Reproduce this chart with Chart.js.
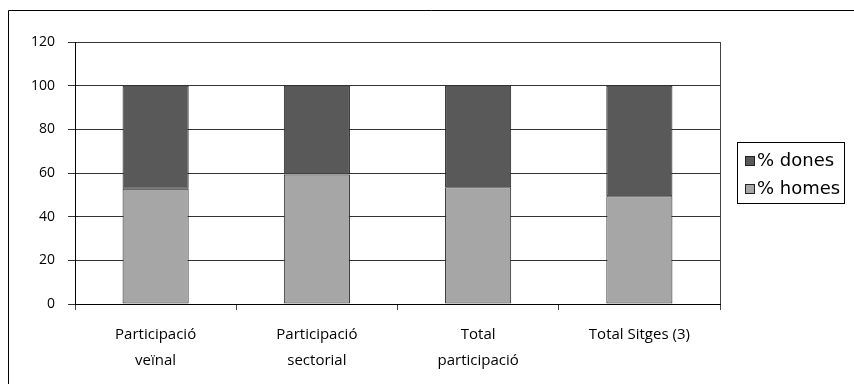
<!DOCTYPE html>
<html>
<head>
<meta charset="utf-8">
<script src="https://cdn.jsdelivr.net/npm/chart.js@4"></script>
<style>
html,body{margin:0;padding:0;background:#fff;}
#wrap{width:854px;height:384px;position:relative;}
</style>
</head>
<body>
<div id="wrap"><canvas id="c" width="854" height="384"></canvas></div>
<script>
const categories = [['Participació','veïnal'], ['Participació','sectorial'], ['Total','participació'], ['Total Sitges (3)']];
const homes = [52.8, 59.3, 53.5, 49.4];
const dones = [47.2, 40.7, 46.5, 50.6];
const yTicks = [0, 20, 40, 60, 80, 100, 120];
const seriesNames = ['% homes', '% dones'];

const FONT = '"Open Sans", "DejaVu Sans", sans-serif';

const framePlugin = {
  id: 'frame',
  afterDraw(chart) {
    const ctx = chart.ctx;
    const a = chart.chartArea;
    ctx.save();
    ctx.strokeStyle = '#000';
    ctx.lineWidth = 1;
    ctx.beginPath();
    ctx.moveTo(8.5, 384);
    ctx.lineTo(8.5, 10.5);
    ctx.lineTo(854, 10.5);
    ctx.stroke();
    ctx.strokeStyle = '#444';
    ctx.beginPath();
    ctx.moveTo(Math.round(a.right) + 0.5, a.top);
    ctx.lineTo(Math.round(a.right) + 0.5, a.bottom);
    ctx.stroke();
    const lx = 737.5, ly = 142.5, lw = 107, lh = 61;
    ctx.strokeStyle = '#000';
    ctx.strokeRect(lx, ly, lw, lh);
    const items = [
      {label: chart.data.datasets[1].label, color: chart.data.datasets[1].backgroundColor, y: 161},
      {label: chart.data.datasets[0].label, color: chart.data.datasets[0].backgroundColor, y: 189}
    ];
    ctx.font = '18px "DejaVu Sans", sans-serif';
    ctx.textBaseline = 'middle';
    ctx.textAlign = 'left';
    items.forEach(it => {
      ctx.fillStyle = it.color;
      ctx.fillRect(745, it.y - 5, 10, 10);
      ctx.strokeStyle = '#222';
      ctx.strokeRect(745.5, it.y - 4.5, 9, 9);
      ctx.fillStyle = '#000';
      ctx.fillText(it.label, 757, it.y);
    });
    ctx.restore();
  }
};

new Chart(document.getElementById('c'), {
  type: 'bar',
  data: {
    labels: categories,
    datasets: [
      {label: seriesNames[0], data: homes, backgroundColor: '#A6A6A6', borderColor: '#222', borderWidth: 1, borderSkipped: false},
      {label: seriesNames[1], data: dones, backgroundColor: '#595959', borderColor: '#222', borderWidth: 1, borderSkipped: false}
    ]
  },
  options: {
    responsive: false,
    animation: false,
    devicePixelRatio: 1,
    layout: {padding: {left: 0, right: 134, top: 42, bottom: 0}},
    datasets: {bar: {categoryPercentage: 1, barPercentage: 0.41}},
    plugins: {legend: {display: false}, tooltip: {enabled: false}},
    scales: {
      x: {
        stacked: true,
        offset: true,
        grid: {display: true, drawOnChartArea: false, drawTicks: true, tickLength: 6, color: '#444', offset: true},
        border: {display: true, color: '#000'},
        ticks: {color: '#000', font: {family: FONT, size: 15, lineHeight: 1.7}, maxRotation: 0, autoSkip: false, padding: 12},
        afterFit(s) { s.height = 80; }
      },
      y: {
        stacked: true,
        min: 0, max: 120,
        afterBuildTicks(s) { s.ticks = yTicks.map(v => ({value: v})); },
        grid: {color: '#333', lineWidth: 1, tickLength: 7, drawTicks: true},
        border: {display: true, color: '#000'},
        ticks: {color: '#000', font: {family: FONT, size: 14}, padding: 13},
        afterFit(s) { s.width = 75; }
      }
    }
  },
  plugins: [framePlugin]
});
</script>
</body>
</html>
